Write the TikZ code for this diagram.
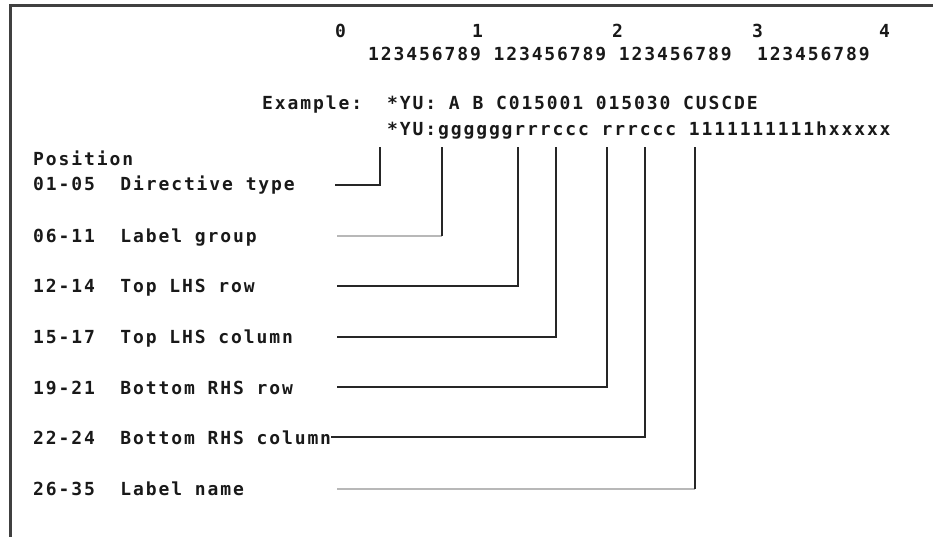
\documentclass[tikz,border=0pt]{standalone}
\usepackage{fontspec}
\newfontfamily\termfont{DejaVu Sans Mono}[LetterSpace=10.5]
\tikzset{
  term/.style={font=\termfont\bfseries\fontsize{18}{20}\selectfont, inner sep=0pt, anchor=base west, text=black!90},
  lead/.style={line width=2.6pt, draw=black!85},
  faint/.style={line width=2.6pt, draw=black!28},
}
\begin{document}
\begin{tikzpicture}[x=1pt,y=-1pt]
  \useasboundingbox (0,0) rectangle (933,537);
  % frame, top and left edge only
  \draw[line width=3pt, black!75] (933,6) -- (10,6) -- (10,537);
  % column ruler
  \node[term] (tens0) at (335,38) {0};
  \node[term] (tens1) at (472,38) {1};
  \node[term] (tens2) at (612,38) {2};
  \node[term] (tens3) at (752,38) {3};
  \node[term] (tens4) at (879,38) {4};
  \node[term] (units) at (368,61) {123456789 123456789 123456789\ \ 123456789};
  % example directive and its layout
  \node[term] (exlabel) at (262,110) {Example:};
  \node[term] (exline) at (387,110) {*YU: A B C015001 015030 CUSCDE};
  \node[term] (layout) at (387,136) {*YU:ggggggrrrccc rrrccc 1111111111hxxxxx};
  % field descriptions
  \node[term] (poshead) at (33,166) {Position};
  \node[term] (fdir) at (33,191) {01-05\ \ Directive type};
  \node[term] (fgrp) at (33,242) {06-11\ \ Label group};
  \node[term] (ftrow) at (33,292) {12-14\ \ Top LHS row};
  \node[term] (ftcol) at (33,343) {15-17\ \ Top LHS column};
  \node[term] (fbrow) at (33,394) {19-21\ \ Bottom RHS row};
  \node[term] (fbcol) at (33,444) {22-24\ \ Bottom RHS column};
  \node[term] (fname) at (33,495) {26-35\ \ Label name};
  % leader ends: start beside each text, top under the code line
  \coordinate (dirA) at (335,185);  \coordinate (dirB) at (380,147);
  \coordinate (grpA) at (337,236);  \coordinate (grpB) at (442,147);
  \coordinate (trowA) at (337,286); \coordinate (trowB) at (518,147);
  \coordinate (tcolA) at (337,337); \coordinate (tcolB) at (556,147);
  \coordinate (browA) at (337,387); \coordinate (browB) at (607,147);
  \coordinate (bcolB) at (645,147);
  \coordinate (nameA) at (337,489); \coordinate (nameB) at (695,147);
  % leaders
  \draw[lead] (dirA) -| (dirB);
  \draw[faint] (grpA) -- (grpA -| grpB);
  \draw[lead] (grpA -| grpB) -- (grpB);
  \draw[lead] (trowA) -| (trowB);
  \draw[lead] (tcolA) -| (tcolB);
  \draw[lead] (browA) -| (browB);
  \draw[lead] (fbcol.east |- 0,437) -| (bcolB);
  \draw[faint] (nameA) -- (nameA -| nameB);
  \draw[lead] (nameA -| nameB) -- (nameB);
\end{tikzpicture}
\end{document}
